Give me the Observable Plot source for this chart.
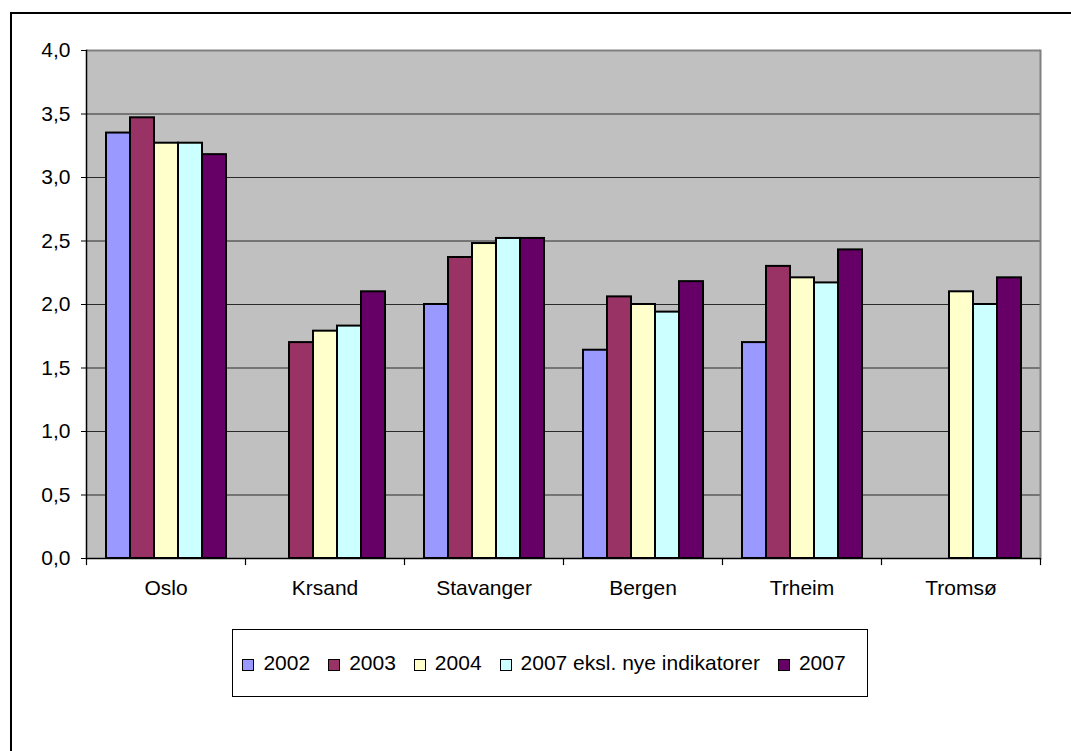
<!DOCTYPE html>
<html>
<head>
<meta charset="utf-8">
<script src="https://cdn.jsdelivr.net/npm/d3@7"></script>
<script src="https://cdn.jsdelivr.net/npm/@observablehq/plot@0.6"></script>
<style>
  html, body { margin: 0; padding: 0; background: #fff; overflow: hidden; }
  body { width: 1071px; height: 751px; position: relative; font-family: "Liberation Sans", Arial, sans-serif; }
  #border { position: absolute; left: 10px; top: 12px; right: -5px; bottom: -5px; border-left: 2px solid #000; border-top: 2px solid #000; }
  #chart { position: absolute; left: 0; top: 0; }
  #legend { position: absolute; left: 232px; top: 629px; width: 636px; height: 68px; box-sizing: border-box;
            border: 1px solid #000; display: flex; align-items: center; justify-content: center; gap: 18px;
            font-size: 21px; color: #000; padding-right: 12px; }
  .item { display: flex; align-items: center; gap: 9px; }
  .sw { width: 12px; height: 12px; box-sizing: border-box; border: 1.5px solid #000; margin-top: 3px; }
</style>
</head>
<body>
<div id="border"></div>
<div id="chart"></div>
<div id="legend"></div>
<script>
const cities = ["Oslo", "Krsand", "Stavanger", "Bergen", "Trheim", "Tromsø"];
const series = ["2002", "2003", "2004", "2007 eksl. nye indikatorer", "2007"];
const v2002 = [3.35, null, 2.00, 1.64, 1.70, null];
const v2003 = [3.47, 1.70, 2.37, 2.06, 2.30, null];
const v2004 = [3.27, 1.79, 2.48, 2.00, 2.21, 2.10];
const v2007eksl = [3.27, 1.83, 2.52, 1.94, 2.17, 2.00];
const v2007 = [3.18, 2.10, 2.52, 2.18, 2.43, 2.21];
const colors = ["#9999ff", "#993366", "#ffffcc", "#ccffff", "#660066"];
const yTicks = [0, 0.5, 1, 1.5, 2, 2.5, 3, 3.5, 4];
const yTickLabels = ["0,0", "0,5", "1,0", "1,5", "2,0", "2,5", "3,0", "3,5", "4,0"];

const seriesValues = [v2002, v2003, v2004, v2007eksl, v2007];
const rows = [];
series.forEach((s, si) => cities.forEach((c, ci) => {
  const v = seriesValues[si][ci];
  if (v != null) rows.push({city: c, series: s, value: v});
}));

const W = 1071, H = 608, mT = 50, mB = 50, mL = 83, mR = 29;
const innerH = H - mT - mB;

const plot = Plot.plot({
  width: W, height: H,
  marginTop: mT, marginBottom: mB, marginLeft: mL, marginRight: mR,
  style: {background: "none", fontFamily: "'Liberation Sans', Arial, sans-serif", fontSize: "21px", color: "#000", overflow: "visible"},
  fx: {domain: cities, padding: 0, round: true, label: null},
  x: {domain: series, paddingInner: 0, paddingOuter: 0.725, axis: null},
  y: {domain: [0, 4], label: null},
  color: {domain: series, range: colors},
  marks: [
    Plot.frame({fill: "#c0c0c0", stroke: "none", facet: "super"}),
    Plot.gridY(yTicks.filter(t => t > 0 && t < 4), {stroke: "#2a2a2a", strokeOpacity: 1, strokeWidth: 1}),
    Plot.ruleY([4], {stroke: "#808080", strokeWidth: 2}),
    Plot.frame({anchor: "right", stroke: "#808080", strokeWidth: 2, facetAnchor: "right"}),
    Plot.barY(rows, {fx: "city", x: "series", y: "value", fill: "series", stroke: "#000", strokeWidth: 2}),
    Plot.ruleY([0], {stroke: "#000", strokeWidth: 1.5}),
    Plot.frame({anchor: "left", stroke: "#000", strokeWidth: 1.5, facetAnchor: "left"}),
    Plot.frame({anchor: "left", stroke: "#000", strokeWidth: 1.2, insetTop: innerH, insetBottom: -6}),
    Plot.frame({anchor: "right", stroke: "#000", strokeWidth: 1.2, insetTop: innerH, insetBottom: -6, facetAnchor: "right"}),
    Plot.axisY({ticks: yTicks, tickFormat: d => yTickLabels[yTicks.indexOf(d)], tickSize: 5, tickPadding: 11, fontSize: 21, label: null, stroke: "#000"}),
    Plot.axisFx({anchor: "bottom", tickSize: 0, tickPadding: 22, fontSize: 21, label: null})
  ]
});
document.getElementById("chart").appendChild(plot);

const legend = document.getElementById("legend");
series.forEach((s, i) => {
  const item = document.createElement("div");
  item.className = "item";
  const sw = document.createElement("div");
  sw.className = "sw";
  sw.style.background = colors[i];
  const t = document.createElement("span");
  t.textContent = s;
  item.appendChild(sw);
  item.appendChild(t);
  legend.appendChild(item);
});
</script>
</body>
</html>
